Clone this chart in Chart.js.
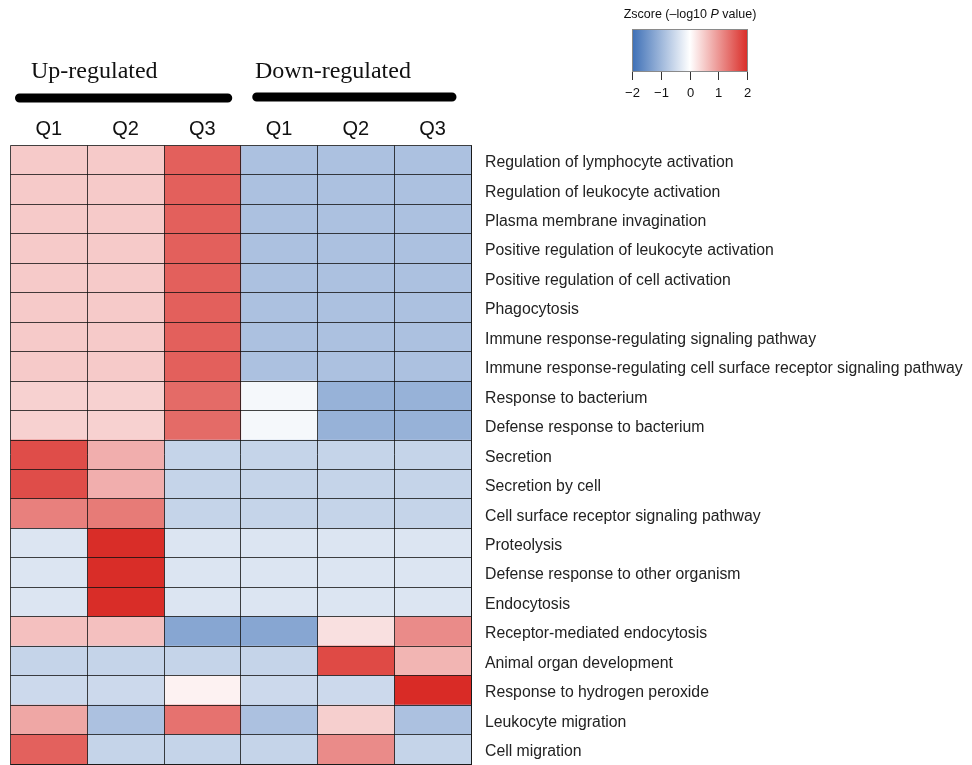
<!DOCTYPE html>
<html>
<head>
<meta charset="utf-8">
<script src="https://cdn.jsdelivr.net/npm/chart.js@4/dist/chart.umd.min.js"></script>
<style>
  html, body { margin: 0; padding: 0; background: #ffffff; }
  #wrap { width: 972px; height: 765px; position: relative; }
</style>
</head>
<body>
<div id="wrap"><canvas id="heat" width="972" height="765"></canvas></div>
<script>
// GO terms, top to bottom
const terms = [
  "Regulation of lymphocyte activation",
  "Regulation of leukocyte activation",
  "Plasma membrane invagination",
  "Positive regulation of leukocyte activation",
  "Positive regulation of cell activation",
  "Phagocytosis",
  "Immune response-regulating signaling pathway",
  "Immune response-regulating cell surface receptor signaling pathway",
  "Response to bacterium",
  "Defense response to bacterium",
  "Secretion",
  "Secretion by cell",
  "Cell surface receptor signaling pathway",
  "Proteolysis",
  "Defense response to other organism",
  "Endocytosis",
  "Receptor-mediated endocytosis",
  "Animal organ development",
  "Response to hydrogen peroxide",
  "Leukocyte migration",
  "Cell migration"
];

// Column headers (quartiles within each regulation group)
const quartiles = ["Q1", "Q2", "Q3", "Q1", "Q2", "Q3"];
const groups = ["Up-regulated", "Down-regulated"];

// Z-scores of -log10 P value per column
const upQ1 = [0.5, 0.5, 0.5, 0.5, 0.5, 0.5, 0.5, 0.5, 0.43, 0.43,
              1.68, 1.68, 1.2, -0.36, -0.36, -0.36, 0.59, -0.6, -0.53, 0.83, 1.49];
const upQ2 = [0.5, 0.5, 0.5, 0.5, 0.5, 0.5, 0.5, 0.5, 0.43, 0.43,
              0.76, 0.76, 1.25, 1.98, 1.98, 1.98, 0.59, -0.6, -0.53, -0.86, -0.6];
const upQ3 = [1.5, 1.5, 1.5, 1.5, 1.5, 1.5, 1.5, 1.5, 1.4, 1.4,
              -0.6, -0.6, -0.6, -0.36, -0.36, -0.36, -1.24, -0.6, 0.12, 1.33, -0.6];
const downQ1 = [-0.86, -0.86, -0.86, -0.86, -0.86, -0.86, -0.86, -0.86, -0.1, -0.1,
                -0.6, -0.6, -0.6, -0.36, -0.36, -0.36, -1.24, -0.6, -0.53, -0.86, -0.6];
const downQ2 = [-0.86, -0.86, -0.86, -0.86, -0.86, -0.86, -0.86, -0.86, -1.07, -1.07,
                -0.6, -0.6, -0.6, -0.36, -0.36, -0.36, 0.29, 1.71, -0.53, 0.45, 1.09];
const downQ3 = [-0.86, -0.86, -0.86, -0.86, -0.86, -0.86, -0.86, -0.86, -1.07, -1.07,
                -0.6, -0.6, -0.6, -0.36, -0.36, -0.36, 1.09, 0.7, 2.0, -0.86, -0.6];

// Legend tick values
const legendTicks = [-2, -1, 0, 1, 2];

const columns = [upQ1, upQ2, upQ3, downQ1, downQ2, downQ3];

// Diverging palette: blue (-2) -> white (0) -> red (+2)
const LOW = [61, 111, 182];
const MID = [255, 255, 255];
const HIGH = [217, 43, 38];
function zColor(z) {
  const t = Math.max(-1, Math.min(1, z / 2));
  const end = t < 0 ? LOW : HIGH;
  const f = Math.abs(t);
  const c = MID.map((m, i) => Math.round(m + (end[i] - m) * f));
  return `rgb(${c[0]},${c[1]},${c[2]})`;
}

const datasets = columns.map((vals, c) => ({
  label: quartiles[c],
  data: vals.map(() => [c, c + 1]),
  backgroundColor: vals.map(zColor),
  borderWidth: 0,
  barPercentage: 1,
  categoryPercentage: 1,
  grouped: false
}));

const LINE = 'rgba(15,15,15,0.78)';

// Headers, group bars and colour key
const decorations = {
  id: 'decorations',
  afterDraw(chart) {
    const ctx = chart.ctx;
    const x = chart.scales.x;
    ctx.save();

    // group headings
    ctx.fillStyle = '#111';
    ctx.font = '24px "Liberation Serif", "Times New Roman", serif';
    ctx.textBaseline = 'middle';
    ctx.textAlign = 'left';
    ctx.fillText(groups[0], 31, 72);
    ctx.fillText(groups[1], 255, 72);

    // thick group bars
    ctx.strokeStyle = '#000';
    ctx.lineWidth = 9;
    ctx.lineCap = 'round';
    ctx.beginPath();
    ctx.moveTo(x.getPixelForValue(0) + 9, 98);
    ctx.lineTo(x.getPixelForValue(3) - 13, 98);
    ctx.moveTo(x.getPixelForValue(3) + 16, 97);
    ctx.lineTo(x.getPixelForValue(6) - 19, 97);
    ctx.stroke();

    // colour key
    const kx0 = 632, kx1 = 748, ky0 = 29, ky1 = 72;
    const grad = ctx.createLinearGradient(kx0, 0, kx1, 0);
    grad.addColorStop(0, zColor(-2));
    grad.addColorStop(0.5, zColor(0));
    grad.addColorStop(1, zColor(2));
    ctx.fillStyle = grad;
    ctx.fillRect(kx0, ky0, kx1 - kx0, ky1 - ky0);
    ctx.lineWidth = 1;
    ctx.strokeStyle = '#8a8a8a';
    ctx.lineCap = 'butt';
    ctx.strokeRect(kx0 + 0.5, ky0 + 0.5, kx1 - kx0 - 1, ky1 - ky0 - 1);

    ctx.strokeStyle = '#333';
    ctx.fillStyle = '#111';
    ctx.font = '13px "Liberation Sans", Arial, sans-serif';
    ctx.textAlign = 'center';
    legendTicks.forEach(v => {
      const px = Math.round(kx0 + (v + 2) / 4 * (kx1 - kx0 - 1)) + 0.5;
      ctx.beginPath();
      ctx.moveTo(px, ky1);
      ctx.lineTo(px, ky1 + 8);
      ctx.stroke();
      ctx.fillText(v < 0 ? '\u2212' + Math.abs(v) : String(v), px, 93);
    });

    // key title with italic P
    const parts = [
      ['Zscore (\u2013log10 ', 'normal'],
      ['P', 'italic'],
      [' value)', 'normal']
    ];
    const fam = '"Liberation Sans", Arial, sans-serif';
    let total = 0;
    parts.forEach(p => { ctx.font = `${p[1]} 12.5px ${fam}`; total += ctx.measureText(p[0]).width; });
    let tx = 690 - total / 2;
    ctx.textAlign = 'left';
    parts.forEach(p => {
      ctx.font = `${p[1]} 12.5px ${fam}`;
      ctx.fillText(p[0], tx, 15);
      tx += ctx.measureText(p[0]).width;
    });
    ctx.restore();
  }
};

new Chart(document.getElementById('heat'), {
  type: 'bar',
  data: { labels: terms, datasets },
  options: {
    indexAxis: 'y',
    responsive: false,
    animation: false,
    layout: { padding: { left: 10.5, right: 0, top: 0, bottom: 0 } },
    plugins: { legend: { display: false }, tooltip: { enabled: false } },
    scales: {
      x: {
        type: 'linear',
        position: 'bottom',
        min: 0, max: 6,
        ticks: { display: false, stepSize: 1 },
        grid: { color: LINE, lineWidth: 1, drawTicks: false, z: 1 },
        border: { display: true, color: LINE, z: 2 },
        afterFit(s) { s.height = 1; }
      },
      x2: {
        type: 'category',
        labels: quartiles,
        position: 'top',
        offset: true,
        grid: { display: false, drawTicks: false },
        border: { display: false },
        ticks: {
          color: '#111',
          font: { family: '"Liberation Sans", Arial, sans-serif', size: 20 },
          padding: 4,
          maxRotation: 0
        },
        afterFit(s) { s.height = 145.5; }
      },
      y: {
        position: 'right',
        grid: { color: LINE, lineWidth: 1, drawTicks: false, offset: true, z: 1 },
        border: { display: true, color: LINE, z: 2 },
        ticks: {
          color: '#222',
          font: { family: '"Liberation Sans", Arial, sans-serif', size: 15.8, lineHeight: 1 },
          padding: 14,
          labelOffset: 2.5,
          autoSkip: false
        },
        afterFit(s) {
          s.width = 501;
          s.paddingTop = 0;
          s.paddingBottom = 0;
        }
      }
    }
  },
  plugins: [decorations]
});
</script>
</body>
</html>
